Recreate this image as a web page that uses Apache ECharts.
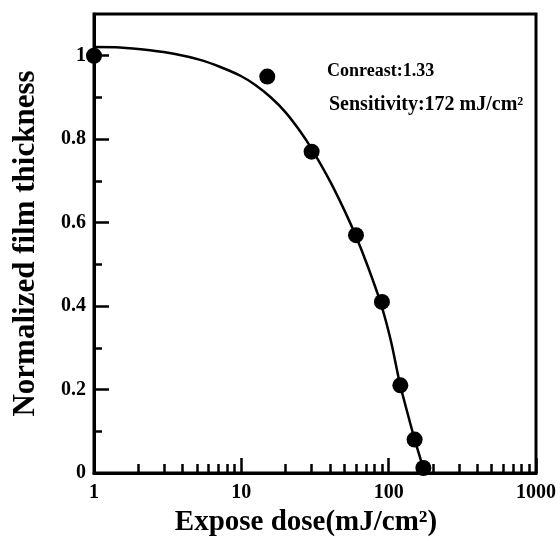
<!DOCTYPE html>
<html>
<head>
<meta charset="utf-8">
<script src="https://cdn.jsdelivr.net/npm/echarts@6/dist/echarts.min.js"></script>
<style>html,body{margin:0;padding:0;background:#fff}#c{width:560px;height:541px}</style>
</head>
<body>
<div id="c"></div>
<script>
// measured points
const doseX = [1, 15, 30, 60, 90, 120, 150, 172];
const thickY = [1.0, 0.95, 0.77, 0.57, 0.41, 0.21, 0.08, 0.012];
// fitted curve
const curveX = [1, 1.5, 2.4, 3.55, 5.26, 7.2, 9.85, 12.45, 15.75, 19.9, 25.2, 29.9, 40.3, 50.9, 59.7, 72, 88.3, 103.3, 119, 134.6, 150.3, 173];
const curveY = [1.021, 1.02, 1.013, 1.004, 0.99, 0.973, 0.952, 0.93, 0.901, 0.865, 0.818, 0.778, 0.697, 0.624, 0.569, 0.496, 0.407, 0.318, 0.215, 0.142, 0.08, 0.008];
// ticks
const xMajorTicks = [1, 10, 100, 1000];
const xMinorTicks = [2,3,4,5,6,7,8,9,20,30,40,50,60,70,80,90,200,300,400,500,600,700,800,900];
const yMajorTicks = [0, 0.2, 0.4, 0.6, 0.8, 1.0];
const yMinorTicks = [0.1, 0.3, 0.5, 0.7, 0.9];
const annotations = ['Conreast:1.33', 'Sensitivity:172 mJ/cm\u00B2'];

const FONT = '"Liberation Serif", "Times New Roman", serif';
const chart = echarts.init(document.getElementById('c'), null, {renderer: 'canvas'});
const base = {
  type: 'log', logBase: 10, min: 1, max: 1000, gridIndex: 0
};
chart.setOption({
  animation: false,
  backgroundColor: '#fff',
  grid: {left: 94, right: 24, top: 14, bottom: 68, show: true, borderColor: '#000', borderWidth: 3, backgroundColor: 'transparent',
    containLabel: false, outerBoundsMode: 'none'},
  xAxis: [
    Object.assign({}, base, {
      position: 'bottom',
      name: 'Expose dose(mJ/cm\u00B2)', nameLocation: 'middle', nameGap: 33,
      nameTextStyle: {fontFamily: FONT, fontWeight: 'bold', fontSize: 29, color: '#000', padding: [0, 18, 0, 0]},
      axisLine: {show: true, lineStyle: {color: '#000', width: 3}},
      axisTick: {show: true, inside: true, length: 15, lineStyle: {color: '#000', width: 2.5}, customValues: xMajorTicks},
      axisLabel: {show: true, margin: 10, fontFamily: FONT, fontWeight: 'bold', fontSize: 20, color: '#000', customValues: xMajorTicks, formatter: v => String(v)},
      splitLine: {show: false}, minorTick: {show: false}
    }),
    Object.assign({}, base, {
      position: 'bottom',
      axisLine: {show: false},
      axisTick: {show: true, inside: true, length: 9, lineStyle: {color: '#000', width: 2.5}, customValues: xMinorTicks},
      axisLabel: {show: false},
      splitLine: {show: false}
    })
  ],
  yAxis: [
    {
      type: 'value', min: 0, max: 1.1, gridIndex: 0, position: 'left',
      name: 'Normalized film thickness', nameLocation: 'middle', nameGap: 53,
      nameTextStyle: {fontFamily: FONT, fontWeight: 'bold', fontSize: 31, color: '#000'},
      axisLine: {show: true, lineStyle: {color: '#000', width: 3}},
      axisTick: {show: true, inside: true, length: 15, lineStyle: {color: '#000', width: 2.5}, customValues: yMajorTicks},
      axisLabel: {show: true, margin: 8, fontFamily: FONT, fontWeight: 'bold', fontSize: 20, color: '#000', customValues: yMajorTicks,
        formatter: v => (v === 0 ? '0' : (Math.abs(v - 1) < 1e-9 ? '1' : v.toFixed(1)))},
      splitLine: {show: false}
    },
    {
      type: 'value', min: 0, max: 1.1, gridIndex: 0, position: 'left',
      axisLine: {show: false},
      axisTick: {show: true, inside: true, length: 8, lineStyle: {color: '#000', width: 2.5}, customValues: yMinorTicks},
      axisLabel: {show: false},
      splitLine: {show: false}
    }
  ],
  series: [
    {
      type: 'line', xAxisIndex: 0, yAxisIndex: 0, smooth: 0.3,
      data: curveX.map((x, i) => [x, curveY[i]]),
      showSymbol: false, symbol: 'none',
      lineStyle: {color: '#000', width: 2.5}, z: 2
    },
    {
      type: 'scatter', xAxisIndex: 0, yAxisIndex: 0,
      data: doseX.map((x, i) => [x, thickY[i]]),
      symbol: 'circle', symbolSize: 16,
      itemStyle: {color: '#000', opacity: 1}, z: 3
    }
  ],
  graphic: [
    {type: 'text', left: 327, top: 62, style: {text: annotations[0], fontFamily: FONT, fontWeight: 'bold', fontSize: 18, fill: '#000'}},
    {type: 'text', left: 329, top: 95, style: {text: annotations[1], fontFamily: FONT, fontWeight: 'bold', fontSize: 20, fill: '#000'}}
  ]
});
</script>
</body>
</html>
